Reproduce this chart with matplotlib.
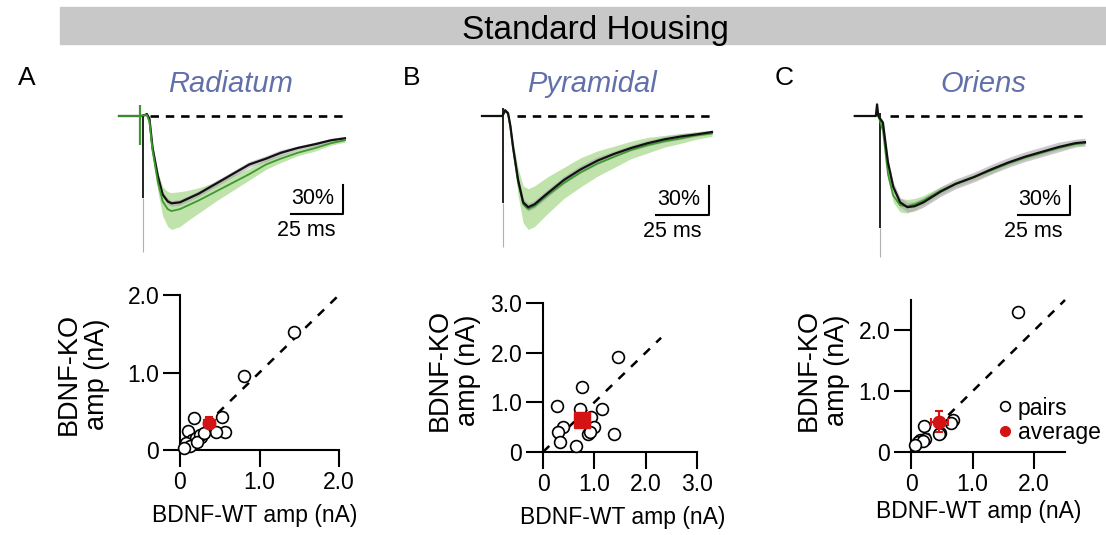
import matplotlib
matplotlib.use('Agg')
import matplotlib.pyplot as plt
from matplotlib.patches import Rectangle
from matplotlib.lines import Line2D

plt.rcParams['font.family'] = ['Liberation Sans', 'DejaVu Sans']

#%% data
panels = ['A', 'B', 'C']
regions = ['Radiatum', 'Pyramidal', 'Oriens']

# normalised EPSC traces (time in ms from stimulus, amplitude in %)
t_A = [-10, -0.2, 0.5, 2.3, 3.3, 4.5, 6, 8.5, 10.8, 13.2, 15, 19, 22, 28, 36, 44, 52, 60, 67, 75, 83.5, 91, 97.6]
ko_A = [0, 0, 0, 1, 2, -3, -33, -62, -81, -88, -90, -89, -86, -80, -70, -60, -50, -44, -38, -33, -29, -25, -23]
wt_A = [0, 0, 0, 1, 1, -6, -36, -68, -88, -96, -98, -96, -93, -87, -78, -69, -60, -50, -44, -38, -33, -28, -25]
ko_sd_A = [0, 0, 0, 1, 1, 2, 2, 3, 3, 3, 3, 3, 3, 3, 3, 3, 3, 3, 3, 2, 2, 2, 2]
wt_sd_A = [0, 0, 0, 1, 1, 2, 6, 10, 15, 18, 19, 18, 16, 13, 10, 8, 6, 5, 4, 3, 3, 2, 2]

t_B = [-10, -0.3, 1, 2.4, 3.5, 4.8, 7.2, 9.6, 12, 15, 21, 29, 37, 45, 53, 61, 69, 77, 85, 92, 99.5]
ko_B = [0, 0, 6, 3, -10, -32, -66, -89, -94, -91, -80, -66, -55, -46, -39, -33, -28, -24, -21, -19, -16.5]
wt_B = [0, 0, 5, 2, -11, -34, -68, -91, -96, -93, -82, -69, -58, -49, -42, -35, -30, -26, -23, -20, -18]
ko_sd_B = [0, 0, 1, 1, 2, 3, 4, 4, 4, 4, 4, 4, 4, 4, 3, 3, 3, 3, 3, 2, 2]
wt_sd_B = [0, 0, 1, 1, 3, 8, 14, 19, 21, 21, 19, 16, 15, 13, 11, 9, 8, 6, 5, 4, 3]

t_C = [-12, -2, -1.4, -0.8, 1.4, 3.8, 6.3, 9.6, 13, 16.5, 20.7, 28.8, 36, 44.7, 53, 61, 69, 77, 85, 93, 97.6]
ko_C = [0, 0, 12, 0, -7, -48, -73, -89, -94, -93, -89, -78, -70, -63, -55, -48, -42, -37, -32, -28, -27]
wt_C = [0, 0, 3, 0, -15, -60, -82, -92, -93, -91, -87, -77, -70, -63, -56, -49, -43, -38, -33, -29, -28]
ko_sd_C = [0, 0, 1, 1, 3, 4, 5, 5, 5, 5, 5, 5, 5, 5, 5, 5, 5, 5, 5, 4, 4]
wt_sd_C = [0, 0, 1, 1, 3, 6, 7, 7, 7, 6, 5, 4, 3, 3, 3, 2, 2, 2, 2, 2, 2]

# stimulus artefact: time, top, bottom of dark part, bottom of faint tail
artefact_t = [1.4, 0.0, 0.0]
artefact_top = [0, 8, 3]
artefact_bot = [-85, -90, -115]
artefact_tail = [-140, -135, -145]
wt_spike_A = [0.0, 11, -30]   # green spike in panel A (t, top, bottom)

# paired amplitudes (nA)
pair_wt_A = [1.44, 0.81, 0.18, 0.53, 0.56, 0.45, 0.10, 0.15, 0.20, 0.27, 0.08, 0.25, 0.12, 0.22, 0.05, 0.30]
pair_ko_A = [1.52, 0.95, 0.41, 0.43, 0.23, 0.23, 0.24, 0.13, 0.15, 0.17, 0.09, 0.20, 0.05, 0.10, 0.03, 0.22]
pair_wt_B = [1.46, 0.76, 0.27, 0.72, 1.15, 0.94, 0.99, 0.39, 0.29, 0.88, 1.38, 0.33, 0.64, 0.92]
pair_ko_B = [1.92, 1.31, 0.93, 0.87, 0.87, 0.71, 0.51, 0.51, 0.40, 0.36, 0.36, 0.20, 0.12, 0.40]
pair_wt_C = [1.74, 0.68, 0.65, 0.21, 0.47, 0.15, 0.11, 0.23, 0.20, 0.06, 0.45]
pair_ko_C = [2.30, 0.53, 0.47, 0.42, 0.32, 0.20, 0.17, 0.22, 0.18, 0.11, 0.30]

avg_wt = [0.37, 0.76, 0.46]
avg_ko = [0.35, 0.65, 0.50]
avg_wt_err = [0.07, 0.07, 0.14]
avg_ko_err = [0.07, 0.07, 0.17]
avg_marker = ['o', 's', 'o']

ax_max = [2.0, 3.0, 2.5]
unity_max = [2.0, 2.3, 2.5]
tick_vals = [[0, 1, 2], [0, 1, 2, 3], [0, 1, 2]]
tick_labels = [['0', '1.0', '2.0'], ['0', '1.0', '2.0', '3.0'], ['0', '1.0', '2.0']]

traces = [(t_A, ko_A, wt_A, ko_sd_A, wt_sd_A),
          (t_B, ko_B, wt_B, ko_sd_B, wt_sd_B),
          (t_C, ko_C, wt_C, ko_sd_C, wt_sd_C)]
pairs = [(pair_wt_A, pair_ko_A), (pair_wt_B, pair_ko_B), (pair_wt_C, pair_ko_C)]

#%% layout (pixels)
W, H = 1106, 535
fig = plt.figure(figsize=(W / 100, H / 100), dpi=100)


def px_axes(x0, y0, w, h):
    return fig.add_axes([x0 / W, 1 - (y0 + h) / H, w / W, h / H])


PX_MS, PX_PCT = 2.1, 0.97
stim_px = [140, 503, 880]
dash_start = [4.8, 6.7, 4.8]
title_x = [231, 592, 983]
letter_x = [18, 403, 775]
scalebar = [(96.7, -101), (98, -102), (90.5, -102)]
scatter_box = [(180, 450, 159, 155), (543, 452, 154, 149), (911, 452, 154, 152)]
ylab_pos = [(-0.61, 0.49), (-0.58, 0.55), (-0.57, 0.54)]
xlab_pos = [(0.47, -0.42), (0.52, -0.44), (0.44, -0.39)]

GREEN = '#3c9a2c'
GREEN_FILL = '#bfe3ab'
GREY_FILL = '#aaa2ac'
RED = '#d41414'
BLUE_T = '#6270aa'

# header bar
fig.patches.append(Rectangle((60 / W, 1 - 44 / H), (W - 60) / W, 37 / H,
                             transform=fig.transFigure, color='#c8c8c8', zorder=0))
fig.text(595 / W, 1 - 39 / H, 'Standard Housing', ha='center', va='baseline', fontsize=24)

for i in range(3):
    fig.text(letter_x[i] / W, 1 - 85 / H, panels[i], ha='left', va='baseline', fontsize=19)
    fig.text(title_x[i] / W, 1 - 92 / H, regions[i], ha='center', va='baseline',
             fontsize=21, style='italic', color=BLUE_T)

    ### traces
    t, ko, wt, ko_sd, wt_sd = traces[i]
    ax = px_axes(stim_px[i] - 15 * PX_MS, 116 - 20 * PX_PCT, 120 * PX_MS, 170 * PX_PCT)
    ax.set_xlim(-15, 105)
    ax.set_ylim(-150, 20)
    ax.axis('off')
    ax.fill_between(t, [v - s for v, s in zip(wt, wt_sd)], [v + s for v, s in zip(wt, wt_sd)],
                    color=GREEN_FILL, lw=0, zorder=1)
    ax.fill_between(t, [v - s for v, s in zip(ko, ko_sd)], [v + s for v, s in zip(ko, ko_sd)],
                    color=GREY_FILL, alpha=0.6, lw=0, zorder=2)
    ax.vlines(artefact_t[i], artefact_tail[i], artefact_bot[i], color='#b0b0b0', lw=0.8, zorder=3)
    ax.vlines(artefact_t[i], artefact_bot[i], artefact_top[i], color='#222222', lw=1.4, zorder=3)
    if i == 0:
        ax.vlines(wt_spike_A[0], wt_spike_A[2], wt_spike_A[1], color=GREEN, lw=1.6, zorder=5)
    ax.plot(t, ko, color='#111111', lw=1.6, zorder=4)
    ax.plot(t, wt, color=GREEN, lw=1.3, zorder=5 if i == 0 else 3.5)
    ax.plot([dash_start[i], t[-1]], [0, 0], color='black', lw=1.9, ls=(0, (3.2, 2.6)), zorder=6)
    # scale bar
    sx, sy = scalebar[i]
    ax.plot([sx - 25, sx, sx], [sy, sy, sy + 30], color='black', lw=1.5, zorder=6)
    ax.text(sx - 14.5, sy + 16, '30%', ha='center', va='center', fontsize=15.5)
    ax.text(sx - 17.5, sy - 17, '25 ms', ha='center', va='center', fontsize=15.5)

    ### scatter
    x0, yb, w, h = scatter_box[i]
    ax = px_axes(x0, yb - h, w, h)
    ax.set_xlim(0, ax_max[i])
    ax.set_ylim(0, ax_max[i])
    for s in ['top', 'right']:
        ax.spines[s].set_visible(False)
    for s in ['left', 'bottom']:
        ax.spines[s].set_linewidth(1.5)
    ax.set_xticks(tick_vals[i])
    ax.set_xticklabels(tick_labels[i])
    ax.set_yticks(tick_vals[i])
    ax.set_yticklabels(tick_labels[i])
    ax.tick_params(length=12, width=1.5, labelsize=16.5, pad=3)
    ax.plot([0, unity_max[i]], [0, unity_max[i]], color='black', lw=1.8,
            ls=(0, (3.5, 3.5)), clip_on=False, zorder=2)
    ax.plot(pairs[i][0], pairs[i][1], 'o', mfc='white', mec='black', mew=1.2, ms=8.5,
            clip_on=False, zorder=3, label='pairs')
    ax.errorbar(avg_wt[i], avg_ko[i], xerr=avg_wt_err[i], yerr=avg_ko_err[i],
                fmt=avg_marker[i], color=RED, ms=11 if i == 1 else 9, elinewidth=1.5,
                capsize=3, capthick=1.5, zorder=4, clip_on=False)
    ax.set_xlabel('BDNF-WT amp (nA)', fontsize=16.5)
    ax.xaxis.label.set_va('center')
    ax.xaxis.set_label_coords(*xlab_pos[i])
    ax.set_ylabel('BDNF-KO\namp (nA)', fontsize=19.5, linespacing=1.1)
    ax.yaxis.label.set_va('center')
    ax.yaxis.set_label_coords(*ylab_pos[i])

    if i == 2:
        handles = [Line2D([], [], ls='', marker='o', mfc='white', mec='black', mew=1.2, ms=7),
                   Line2D([], [], ls='', marker='o', color=RED, ms=7)]
        ax.legend(handles, ['pairs', 'average'], loc='center left',
                  bbox_to_anchor=(0.575, 0.21), frameon=False, fontsize=16.5,
                  handlelength=0.5, handletextpad=0.3, borderpad=0, borderaxespad=0,
                  labelspacing=0.05)

fig.savefig('out.png', dpi=100)
